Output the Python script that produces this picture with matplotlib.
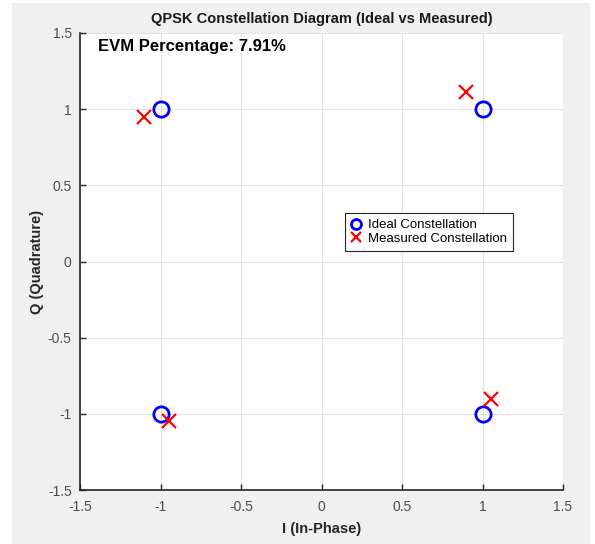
import matplotlib.pyplot as plt
from matplotlib.patches import Rectangle

# Ideal QPSK points and the measured ones
ideal_i = [1, -1, -1, 1]
ideal_q = [1, 1, -1, -1]
meas_i = [0.90, -1.10, -0.95, 1.05]
meas_q = [1.11, 0.95, -1.05, -0.90]
evm_pct = 7.91
ticks = [-1.5, -1, -0.5, 0, 0.5, 1, 1.5]

plt.rcParams['font.family'] = ['Liberation Sans', 'DejaVu Sans']

fig = plt.figure(figsize=(5.95, 5.44), dpi=100)
fig.patch.set_facecolor('white')
# grey matlab-like figure background
fig.patches.append(Rectangle((12/595, 0), 578/595, 541/544, transform=fig.transFigure,
                             facecolor='#f0f0f0', edgecolor='none', zorder=-10))

ax = fig.add_axes([80/595, 54/544, 483/595, 457/544])
ax.set_facecolor('white')

ax.plot(ideal_i, ideal_q, 'o', color='blue', markersize=11, markerfacecolor='none',
        markeredgewidth=2, label='Ideal Constellation', zorder=3)
ax.plot(meas_i, meas_q, 'x', color='red', markersize=10, markeredgewidth=1.6,
        label='Measured Constellation', zorder=4)

ax.set_xlim(-1.5, 1.5)
ax.set_ylim(-1.5, 1.5)
ax.set_xticks(ticks)
ax.set_yticks(ticks)
ax.set_xticklabels(['-1.5', '-1', '-0.5', '0', '0.5', '1', '1.5'])
ax.set_yticklabels(['-1.5', '-1', '-0.5', '0', '0.5', '1', '1.5'])
ax.grid(True, color='#e3e3e3', linewidth=0.8)
ax.set_axisbelow(True)

for s in ['top', 'right']:
    ax.spines[s].set_visible(False)
for s in ['left', 'bottom']:
    ax.spines[s].set_color('#262626')
    ax.spines[s].set_linewidth(1.2)
ax.tick_params(direction='in', length=4, width=1, colors='#262626', labelsize=10,
               labelcolor='#4d4d4d')
ax.tick_params(axis='x', pad=7)
ax.tick_params(axis='y', pad=6)

ax.set_title('QPSK Constellation Diagram (Ideal vs Measured)', fontsize=10.5,
             fontweight='bold', color='#1a1a1a', pad=7)
ax.set_xlabel('I (In-Phase)', fontsize=10.5, fontweight='bold', color='#262626',
              labelpad=6)
ax.set_ylabel('Q (Quadrature)', fontsize=10.5, fontweight='bold', color='#262626',
              labelpad=3)

ax.text(-1.39, 1.41, f'EVM Percentage: {evm_pct:.2f}%', fontsize=12, fontweight='bold',
        va='center', ha='left', color='black')

leg = ax.legend(loc='center left', bbox_to_anchor=(0.549, 0.565), fontsize=9.5,
                frameon=True, fancybox=False, edgecolor='#262626', framealpha=1,
                handlelength=0.8, handletextpad=0.5, borderpad=0.45, labelspacing=0.1,
                borderaxespad=0, markerscale=0.65)
leg.get_frame().set_linewidth(0.8)

plt.savefig('out.png', dpi=100)
